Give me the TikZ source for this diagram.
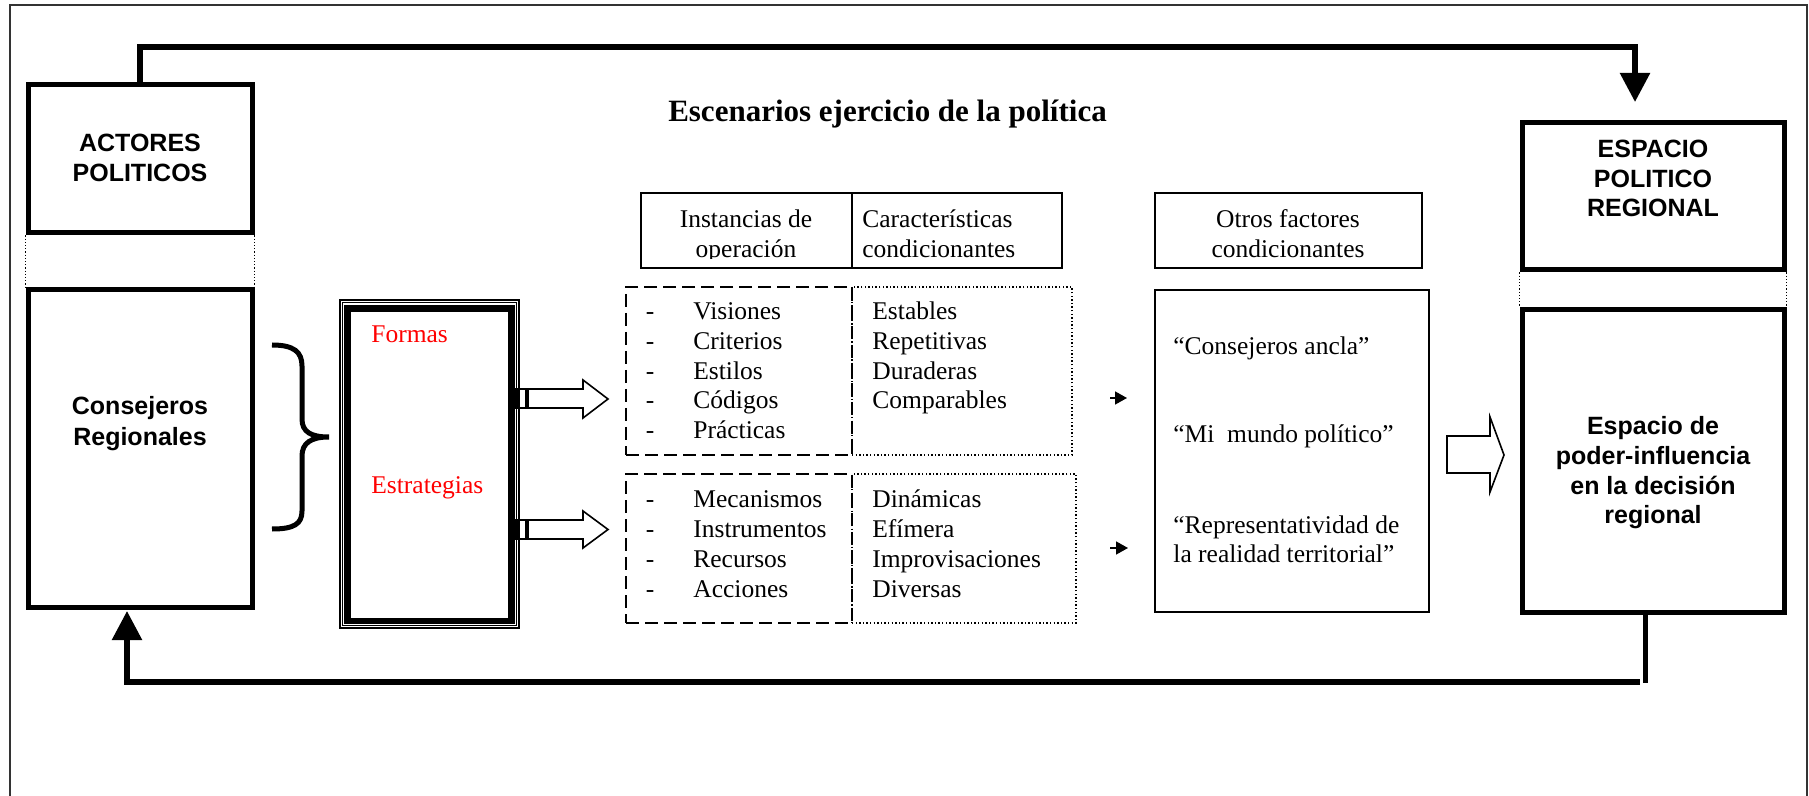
\documentclass[tikz,border=0pt]{standalone}
\usepackage{fontspec}
\setmainfont{Liberation Serif}
\setsansfont{Liberation Sans}
\usetikzlibrary{arrows.meta,fit}

\tikzset{
  heavybox/.style={draw, line width=2.5pt, inner sep=0pt},
  thinbox/.style={draw, line width=0.85pt, inner sep=0pt},
  conn/.style={line width=2.75pt, line join=miter},
  tnr/.style={inner sep=0pt, font=\fontsize{12.75pt}{14.85pt}\selectfont},
  tnrb/.style={inner sep=0pt, font=\bfseries\fontsize{15.5pt}{18pt}\selectfont},
  arb/.style={inner sep=0pt, font=\sffamily\bfseries\fontsize{12.5pt}{15pt}\selectfont},
  redtxt/.style={tnr, text=red},
  dashbox/.style={draw, line width=1pt, dash pattern=on 6.5pt off 3pt, inner sep=0pt},
  dotbox/.style={draw, line width=0.7pt, dash pattern=on 0.7pt off 1.1pt, inner sep=0pt},
  hollow/.style={draw, fill=white, line width=0.8pt, line join=miter},
  bigtip/.style={-{Triangle[length=14.5pt,width=14.5pt]}},
  smalltip/.style={line width=0.8pt, -{Triangle[length=6pt,width=6.5pt]}},
  linkdot/.style={line width=0.6pt, dash pattern=on 0.6pt off 1pt},
}

\begin{document}
\begin{tikzpicture}[x=0.5pt,y=-0.5pt]
\useasboundingbox (0,0) rectangle (1809,796);

% outer frame
\draw[line width=0.8pt, black!80] (10,800) -- (10,5) -- (1807,5) -- (1807,800);

% title
\node[tnrb, anchor=base] (title) at (887.5,122) {Escenarios ejercicio de la política};

% left boxes
\node[heavybox, fit={(28,85)(252,233)}] (actores) {};
\node[arb, anchor=base] (actT1) at (140,152) {ACTORES};
\node[arb, anchor=base] (actT2) at (140,182) {POLITICOS};
\node[heavybox, fit={(28,290)(252,607)}] (consej) {};
\node[arb, anchor=base] (conT1) at (140,415) {Consejeros};
\node[arb, anchor=base] (conT2) at (140,445) {Regionales};
\draw[linkdot] (actores.south west) -- (consej.north west);
\draw[linkdot] (actores.south east) -- (consej.north east);

% brace
\draw[line width=2.5pt] (272,345) .. controls (294,345) and (302,352) .. (302,366)
  -- (302,419) .. controls (302,432) and (311,437) .. (329,437)
  .. controls (311,437) and (302,443) .. (302,456)
  -- (302,511) .. controls (302,524) and (294,529) .. (272,529);

% Formas / Estrategias box
\draw[line width=0.6pt] (340,300) rectangle (519,628);
\draw[line width=0.6pt] (342.7,302.7) rectangle (516.5,625.5);
\node[draw, line width=3.25pt, inner sep=0pt, fit={(347.5,308.5)(511.5,621)}] (formas) {};
\node[redtxt, anchor=base west] (formasT) at (371,343) {Formas};
\node[redtxt, anchor=base west] (estrT) at (371,493) {Estrategias};

% hollow arrows from Formas box
\draw[hollow] (528,389) -- (583,389) -- (583,380) -- (608,399) -- (583,418) -- (583,408) -- (528,408) -- cycle;
\draw[line width=0.6pt] (515,389) rectangle (526,408);
\fill (515,389) rectangle (520,408);
\draw[hollow] (528,520) -- (583,520) -- (583,511) -- (608,529.5) -- (583,548) -- (583,539) -- (528,539) -- cycle;
\draw[line width=0.6pt] (515,520) rectangle (526,539);
\fill (515,520) rectangle (520,539);

% headers
\node[thinbox, fit={(641,193)(852,268)}] (instH) {};
\node[thinbox, fit={(852,193)(1062,268)}] (caracH) {};
\node[thinbox, fit={(1155,193)(1422,268)}] (otrosH) {};
\node[tnr, anchor=base] (instT1) at (746,228) {Instancias de};
\begin{scope}
\clip (641,193) rectangle (852,258.5);
\node[tnr, anchor=base] (instT2) at (746,257.5) {operación};
\end{scope}
\node[tnr, anchor=base west] (carT1) at (862,228) {Características};
\node[tnr, anchor=base west] (carT2) at (862,257.5) {condicionantes};
\node[tnr, anchor=base] (otrT1) at (1288,228) {Otros factores};
\node[tnr, anchor=base] (otrT2) at (1288,257.5) {condicionantes};

% upper list boxes
\node[dashbox, fit={(626,287)(852,455)}] (instA) {};
\node[dotbox, fit={(852,287)(1072,455)}] (carA) {};
\foreach \w [count=\i from 0] in {Visiones,Criterios,Estilos,Códigos,Prácticas}{
  \node[tnr, anchor=base] (dA\i) at (650,320+29.6*\i) {-};
  \node[tnr, anchor=base west] (wA\i) at (693,320+29.6*\i) {\w};
}
\foreach \w [count=\i from 0] in {Estables,Repetitivas,Duraderas,Comparables}{
  \node[tnr, anchor=base west] (cA\i) at (872,320+29.6*\i) {\w};
}

% lower list boxes
\node[dashbox, fit={(626,474)(852,623)}] (instB) {};
\node[dotbox, fit={(852,474)(1076,623)}] (carB) {};
\foreach \w [count=\i from 0] in {Mecanismos,Instrumentos,Recursos,Acciones}{
  \node[tnr, anchor=base] (dB\i) at (650,507+30*\i) {-};
  \node[tnr, anchor=base west] (wB\i) at (693,507+30*\i) {\w};
}
\foreach \w [count=\i from 0] in {Dinámicas,Efímera,Improvisaciones,Diversas}{
  \node[tnr, anchor=base west] (cB\i) at (872,507+30*\i) {\w};
}

% small arrows
\coordinate (sa1) at (1110,398);
\coordinate (sa1e) at (1127,398);
\coordinate (sa2) at (1110,548);
\coordinate (sa2e) at (1128,548);
\draw[smalltip] (sa1) -- (sa1e);
\draw[smalltip] (sa2) -- (sa2e);

% Otros factores box
\node[thinbox, fit={(1155,290)(1429,612)}] (otros) {};
\node[tnr, anchor=base west] (oT1) at (1173,355) {“Consejeros ancla”};
\node[tnr, anchor=base west] (oT2) at (1173,443) {“Mi\ \ mundo político”};
\node[tnr, anchor=base west] (oT3) at (1173,533) {“Representatividad de};
\node[tnr, anchor=base west] (oT4) at (1173,562) {la realidad territorial”};

% big hollow arrow
\draw[hollow] (1447,436) -- (1490,436) -- (1490,417) -- (1504,455) -- (1490,492) -- (1490,473) -- (1447,473) -- cycle;

% right boxes
\node[heavybox, fit={(1522,122.5)(1784,270)}] (espA) {};
\node[arb, anchor=base] (eT1) at (1653,158) {ESPACIO};
\node[arb, anchor=base] (eT2) at (1653,188) {POLITICO};
\node[arb, anchor=base] (eT3) at (1653,217) {REGIONAL};
\node[heavybox, fit={(1522,310)(1784,612)}] (espB) {};
\node[arb, anchor=base] (fT1) at (1653,435) {Espacio de};
\node[arb, anchor=base] (fT2) at (1653,464.5) {poder-influencia};
\node[arb, anchor=base] (fT3) at (1653,494) {en la decisión};
\node[arb, anchor=base] (fT4) at (1653,523.5) {regional};
\draw[linkdot] (espA.south west) -- (espB.north west);
\draw[linkdot] (espA.south east) -- (espB.north east);

% feedback connectors
\coordinate (topTurn) at (1635,47);
\coordinate (topTip) at (1635,102);
\draw[conn, bigtip] (actores.north) |- (topTurn) -- (topTip);
\coordinate (botR) at (1645.5,682.5);
\coordinate (botRh) at (1640,682);
\coordinate (botL) at (127,682);
\coordinate (botTip) at (127,611);
\draw[conn] (espB.south -| botR) -- (botR);
\draw[conn, bigtip] (botRh) -- (botL) -- (botTip);
\end{tikzpicture}
\end{document}
